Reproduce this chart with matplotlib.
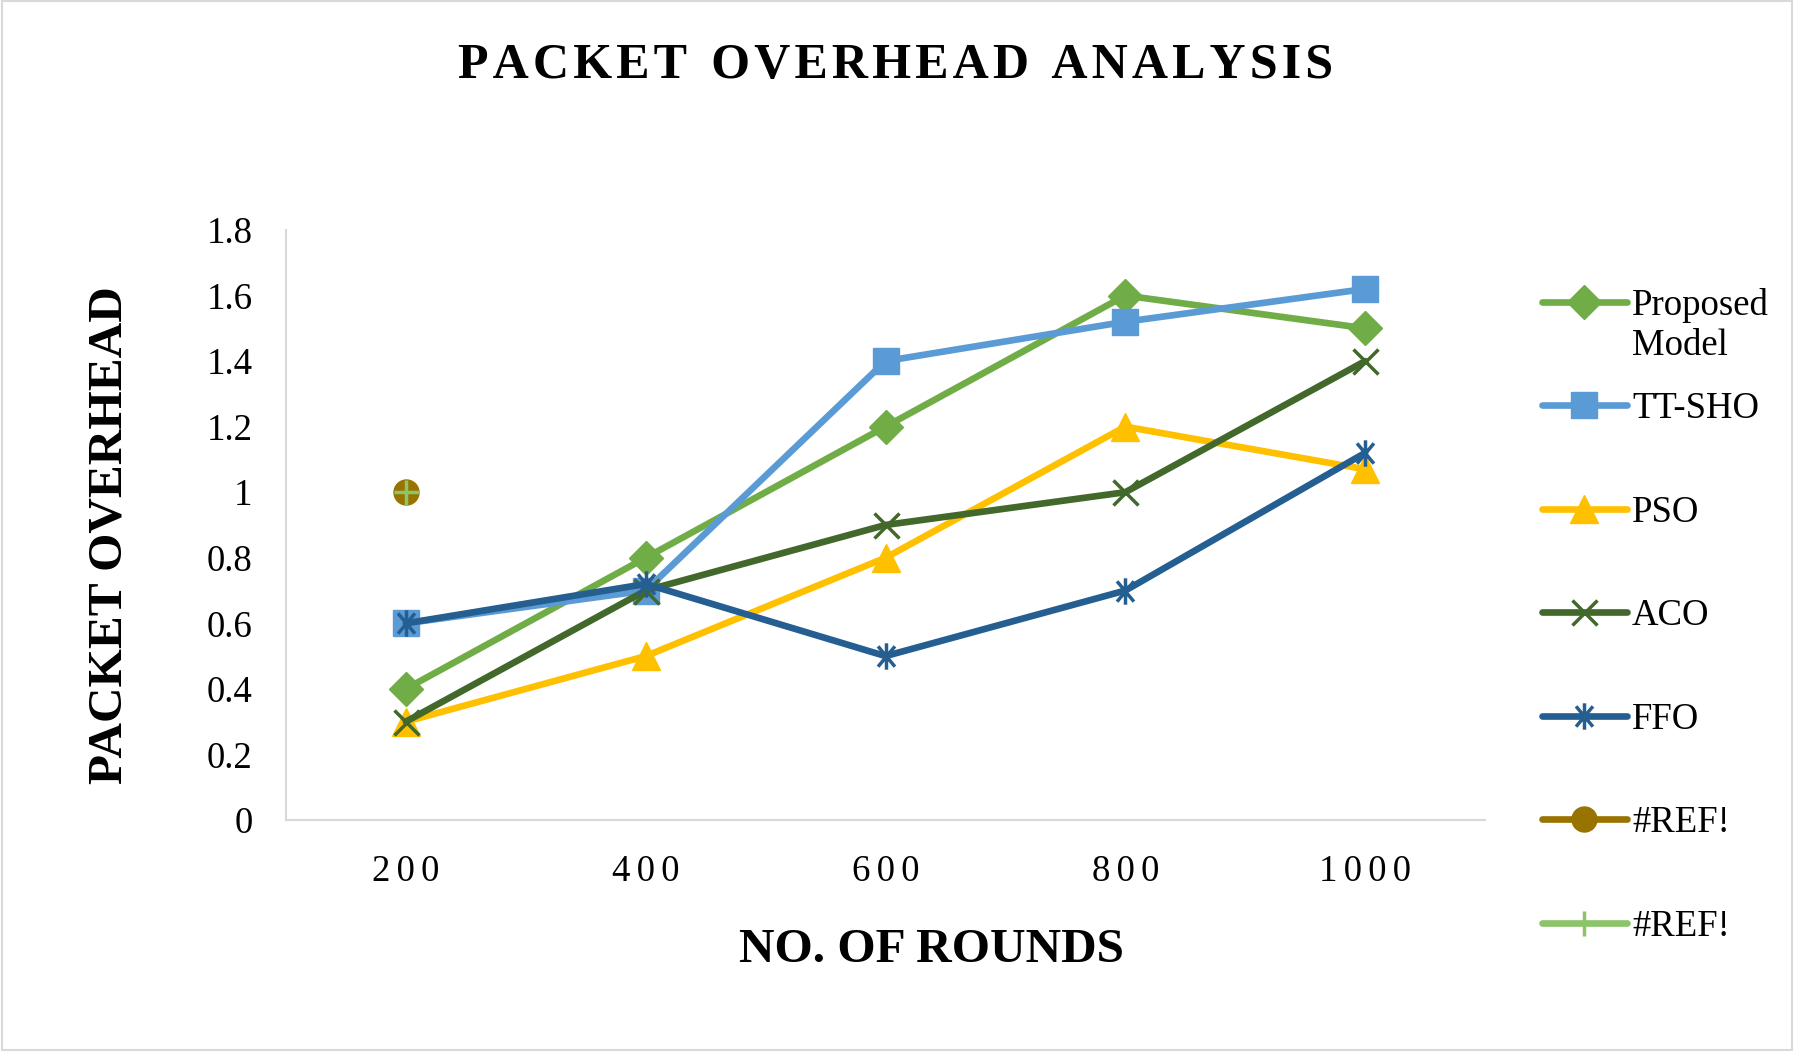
import numpy as np
import matplotlib.pyplot as plt
from matplotlib.path import Path
from matplotlib.patches import Rectangle

# duomenys
rounds = ['200', '400', '600', '800', '1000']
proposed = [0.4, 0.8, 1.2, 1.6, 1.5]
tt_sho = [0.6, 0.7, 1.4, 1.52, 1.62]
pso = [0.3, 0.5, 0.8, 1.2, 1.07]
aco = [0.3, 0.7, 0.9, 1.0, 1.4]
ffo = [0.6, 0.72, 0.5, 0.7, 1.12]
ref1 = [1.0, np.nan, np.nan, np.nan, np.nan]
ref2 = [1.0, np.nan, np.nan, np.nan, np.nan]

serif = ['Liberation Serif', 'DejaVu Serif']
hair = '\u200a'


def spaced(s, gap=hair):
    # raidziu tarpai kaip Excel'yje
    return gap.join(s)


# asterisko markeris (vertikali linija + X)
a, b = 0.64, 0.77
aster = Path([(0, -1), (0, 1), (-a, -b), (a, b), (-a, b), (a, -b)],
             [Path.MOVETO, Path.LINETO, Path.MOVETO, Path.LINETO, Path.MOVETO, Path.LINETO])

fig = plt.figure(figsize=(17.94, 10.51), dpi=100)
ax = fig.add_axes([0.1594, 0.2198, 0.6684, 0.5614])

x = np.arange(len(rounds))
lw = 4.8
common = dict(linewidth=lw, solid_capstyle='round', solid_joinstyle='round')

ax.plot(x, proposed, color='#70AD47', marker='D', markersize=17, label='Proposed', **common)
ax.plot(x, tt_sho, color='#5B9BD5', marker='s', markersize=18.5, label='TT-SHO', **common)
ax.plot(x, pso, color='#FFC000', marker='^', markersize=20, label='PSO', **common)
ax.plot(x, aco, color='#43682B', marker='x', markersize=18, markeredgewidth=2.5, label='ACO', **common)
ax.plot(x, ffo, color='#255E91', marker=aster, markersize=19, markeredgewidth=2.5, label='FFO', **common)
ax.plot(x, ref1, color='#997300', marker='o', markersize=18, label='#REF!', **common)
ax.plot(x, ref2, color='#8CC46A', marker='+', markersize=18, markeredgewidth=2.5, label='#REF!', **common)

ax.set_xlim(-0.5, 4.5)
ax.set_ylim(0, 1.8)
ax.set_yticks(np.arange(0, 1.81, 0.2))
ax.set_yticklabels(['0', '0.2', '0.4', '0.6', '0.8', '1', '1.2', '1.4', '1.6', '1.8'])
ax.set_xticks(x)
ax.set_xticklabels([spaced(r, hair * 2) for r in rounds])

for lab in ax.get_xticklabels() + ax.get_yticklabels():
    lab.set_family(serif)
    lab.set_fontsize(26.5)
ax.tick_params(axis='both', length=0)
ax.tick_params(axis='x', pad=25)
ax.tick_params(axis='y', pad=24)

for s in ['top', 'right']:
    ax.spines[s].set_visible(False)
for s in ['left', 'bottom']:
    ax.spines[s].set_color('#D9D9D9')
    ax.spines[s].set_linewidth(1.5)

fig.text(0.4994, 0.937, '  '.join(spaced(w) for w in 'PACKET OVERHEAD ANALYSIS'.split()),
         ha='center', va='center', fontsize=36, fontweight='bold', family=serif)
fig.text(0.5195, 0.096, 'NO. OF ROUNDS', ha='center', va='center',
         fontsize=35.5, fontweight='bold', family=serif)
fig.text(0.061, 0.491, 'PACKET OVERHEAD', ha='center', va='center', rotation=90,
         fontsize=35.5, fontweight='bold', family=serif)

leg = ax.legend(loc='upper left', bbox_to_anchor=(0.8595, 0.7263), bbox_transform=fig.transFigure,
                frameon=False, prop={'family': serif, 'size': 26.5},
                handlelength=2.3, handletextpad=0.15, labelspacing=1.875, borderpad=0, borderaxespad=0)

# antra "Proposed Model" eilute kaip Excel'yje - islenda po pirmu irasu
fig.canvas.draw()
bb = leg.get_texts()[0].get_window_extent()
W, H = fig.get_size_inches() * fig.dpi
fig.text(bb.x0 / W, (bb.y0 - 40) / H, 'Model', ha='left', va='bottom',
         fontsize=26.5, family=serif)

# remelis aplink
fig.patches.append(Rectangle((0.001, 0.001), 0.998, 0.998, transform=fig.transFigure,
                             fill=False, edgecolor='#D9D9D9', linewidth=1.5))

fig.savefig('out.png', dpi=100)
